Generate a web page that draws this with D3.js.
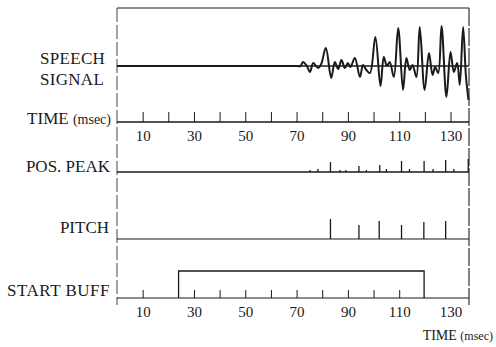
<!DOCTYPE html>
<html><head><meta charset="utf-8">
<script src="https://cdn.jsdelivr.net/npm/d3@7"></script>
<style>
html,body{margin:0;padding:0;background:#fff;}
svg{display:block;}
text{font-family:"Liberation Serif","DejaVu Serif",serif;fill:#1a1a1a;}
</style></head>
<body>
<script>
// ---------- data ----------
const timeTicks = [10,20,30,40,50,60,70,80,90,100,110,120,130];
const tickLabels = [10,30,50,70,90,110,130];
const bufferTicks = [10,30,40,50,60,70,80,90,100,110];
// speech signal turning points (time msec, amplitude)
const speechT = [0,30,60,70,71.5,72.5,74,75.2,76.5,78.4,79.6,81.4,83.5,84.9,86.2,87.5,88.8,90,91,92.7,94.7,95.9,97.2,98.6,100.7,102.7,104,105.2,106.3,107.9,109.6,111.5,112.8,114.1,115.2,116.7,118,119.9,121.6,123,124,125.2,126.5,128.4,130,131.3,132.6,133.6,134.9,136,137];
const speechV = [0,0,0,0,0,4,0,-6,3,-2,2,18,-12,4,-3,6,-2,3,-1,8,-11,1,-4,-7,29,-20,9,0,4,-11,38,-24,8,-4,1,-11,39,-24,13,-9,-1,-7,40,-31,14,-6,3,-19,39,-10,-34];
// positive peak markers (time, height)
const posPeakT = [75.2,78.3,83.2,86.9,89.2,94.3,97.2,102.4,105,110.9,114,119.7,123.2,128.1,131.3,136.9];
const posPeakH = [2,3,10,2,2,6,2,7,3,11,3,11,3,12,3,13];
// pitch markers (time, height)
const pitchT = [83.2,94.3,102.2,110.9,119.6,128.1];
const pitchH = [20,14,18,14,17,18];
// start buffer gate (on, off)
const bufferOn = 24;
const bufferOff = 119.7;
const tMax = 137.2;

// ---------- layout ----------
const W = 496, H = 347;
const svg = d3.select("body").append("svg").attr("width", W).attr("height", H);
svg.append("rect").attr("width", W).attr("height", H).attr("fill", "#fff");

const x = d3.scaleLinear().domain([0, tMax]).range([117, 469]);
const ySig = d3.scaleLinear().domain([-58, 58]).range([124, 8]);
const topY = 8, timeY = 122, posY = 172, pitchY = 239, bufY = 298, bufHigh = 271;
const ink = "#1a1a1a";

// frame
svg.append("line").attr("x1", x(0)).attr("x2", x(tMax)).attr("y1", topY).attr("y2", topY)
  .attr("stroke", ink).attr("stroke-width", 1.2);
svg.append("line").attr("x1", x(0)).attr("x2", x(0)).attr("y1", topY).attr("y2", 305)
  .attr("stroke", "#444").attr("stroke-width", 1).attr("stroke-dasharray", "14,3");
svg.append("line").attr("x1", x(tMax)).attr("x2", x(tMax)).attr("y1", topY).attr("y2", 305)
  .attr("stroke", "#333").attr("stroke-width", 1.2).attr("stroke-dasharray", "18,2");

// speech baseline + signal
svg.append("line").attr("x1", x(0)).attr("x2", x(tMax)).attr("y1", ySig(0)).attr("y2", ySig(0))
  .attr("stroke", ink).attr("stroke-width", 1.5);
const sig = speechT.map((t, i) => [t, speechV[i]]);
svg.append("path").datum(sig)
  .attr("d", d3.line().x(d => x(d[0])).y(d => ySig(d[1])).curve(d3.curveCatmullRom.alpha(0.5)))
  .attr("fill", "none").attr("stroke", ink).attr("stroke-width", 2);

// time axis row
const timeAxis = d3.axisTop(x).tickValues(timeTicks).tickSize(10).tickFormat("");
const gT = svg.append("g").attr("transform", `translate(0,${timeY})`).call(timeAxis);
gT.select(".domain").attr("stroke", ink).attr("stroke-width", 1.3).attr("d", `M${x(0)},0H${x(tMax)}`);
gT.selectAll(".tick line").attr("stroke", ink).attr("stroke-width", 1);
const labAxis = d3.axisBottom(x).tickValues(tickLabels).tickSize(0).tickPadding(8).tickFormat(d3.format("d"));
const gL = svg.append("g").attr("transform", `translate(0,${timeY})`).call(labAxis);
gL.select(".domain").remove();
gL.selectAll("text").attr("font-size", 15).attr("font-family", "Liberation Serif").attr("fill", ink);

// pos peak row
svg.append("line").attr("x1", x(0)).attr("x2", x(tMax)).attr("y1", posY).attr("y2", posY)
  .attr("stroke", ink).attr("stroke-width", 1.3);
svg.selectAll(".pp").data(posPeakT).enter().append("line")
  .attr("x1", d => x(d)).attr("x2", d => x(d)).attr("y1", posY).attr("y2", (d, i) => posY - posPeakH[i])
  .attr("stroke", ink).attr("stroke-width", 1.3);

// pitch row
svg.append("line").attr("x1", x(0)).attr("x2", x(tMax)).attr("y1", pitchY).attr("y2", pitchY)
  .attr("stroke", ink).attr("stroke-width", 1.2);
svg.selectAll(".pi").data(pitchT).enter().append("line")
  .attr("x1", d => x(d)).attr("x2", d => x(d)).attr("y1", pitchY).attr("y2", (d, i) => pitchY - pitchH[i])
  .attr("stroke", ink).attr("stroke-width", 1.3);

// start buffer row
const bufAxis = d3.axisTop(x).tickValues(bufferTicks).tickSize(8).tickFormat("");
const gB = svg.append("g").attr("transform", `translate(0,${bufY})`).call(bufAxis);
gB.select(".domain").attr("stroke", ink).attr("stroke-width", 1.2).attr("d", `M${x(0)},0H${x(tMax)}`);
gB.selectAll(".tick line").attr("stroke", ink).attr("stroke-width", 1);
svg.append("path")
  .attr("d", `M${x(bufferOn)},${bufY}V${bufHigh}H${x(bufferOff)}V${bufY}`)
  .attr("fill", "none").attr("stroke", ink).attr("stroke-width", 1.3);
const labAxis2 = d3.axisBottom(x).tickValues(tickLabels).tickSize(0).tickPadding(8).tickFormat(d3.format("d"));
const gL2 = svg.append("g").attr("transform", `translate(0,${bufY})`).call(labAxis2);
gL2.select(".domain").remove();
gL2.selectAll("text").attr("font-size", 15).attr("font-family", "Liberation Serif").attr("fill", ink);

// labels
function label(txt, xr, y, size) {
  return svg.append("text").attr("x", xr).attr("y", y).attr("text-anchor", "end")
    .attr("font-size", size).text(txt);
}
svg.append("text").attr("x", 40).attr("y", 64).attr("font-size", 17).attr("letter-spacing", 0.3).text("SPEECH");
svg.append("text").attr("x", 40).attr("y", 85).attr("font-size", 17).attr("letter-spacing", 0.3).text("SIGNAL");
const tl = svg.append("text").attr("x", 111).attr("y", 124).attr("text-anchor", "end").attr("font-size", 17);
tl.append("tspan").text("TIME ");
tl.append("tspan").attr("font-size", 14).text("(msec)");
label("POS. PEAK", 110, 172, 17);
label("PITCH", 109, 233, 17);
label("START BUFF", 110, 296, 17).attr("letter-spacing", 0.5);
const tb = svg.append("text").attr("x", 493).attr("y", 340).attr("text-anchor", "end").attr("font-size", 14);
tb.append("tspan").text("TIME ");
tb.append("tspan").attr("font-size", 12).text("(msec)");
</script>
</body></html>
